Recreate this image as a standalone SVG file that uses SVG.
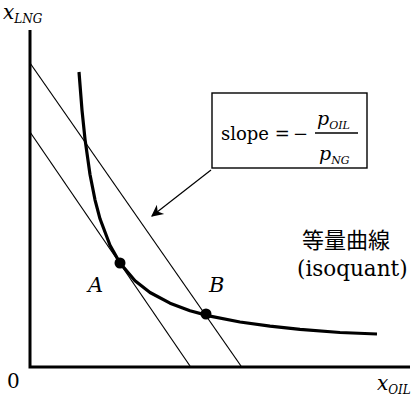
<svg xmlns="http://www.w3.org/2000/svg" width="413" height="396" viewBox="0 0 413 396">
<style>
.t{font-family:"DejaVu Serif","Liberation Serif",serif;fill:#000}
.cjk{font-family:"Noto Sans CJK JP","Noto Sans CJK SC",sans-serif;fill:#000}
.i{font-style:italic}
.thin{stroke:#000;stroke-width:1.2;fill:none}
.axis{stroke:#000;stroke-width:3;fill:none}
</style>
<defs>
<marker id="ah" viewBox="0 0 10 10" refX="9" refY="5" markerWidth="14" markerHeight="12" orient="auto" markerUnits="userSpaceOnUse">
<path d="M0,0 L10,5 L0,10 L3,5 z" fill="#000"/>
</marker>
</defs>
<rect width="413" height="396" fill="#fff"/>
<g id="axes">
<path class="axis" d="M30,30 V367 H410"/>
<text class="t i" x="3" y="19" font-size="20">x<tspan font-size="12" dy="4">LNG</tspan></text>
<text class="t" x="7" y="388" font-size="20">0</text>
<text class="t i" x="377" y="390" font-size="20">x<tspan font-size="12" dy="4">OIL</tspan></text>
</g>
<g id="connectors">
<line class="thin" x1="30" y1="63" x2="241" y2="366"/>
<line class="thin" x1="30" y1="132" x2="190" y2="366"/>
<line class="thin" x1="211" y1="170" x2="152" y2="216" marker-end="url(#ah)"/>
</g>
<g id="isoquant">
<path d="M79,72 L82,110.1 L85,139.1 L90,174.5 L95,199.8 L100,218.8 L110,245.3 L120,263 L135,280.7 L150,292.5 L170,303.2 L190,310.7 L210,316.1 L240,322 L270,326.2 L300,329.4 L340,332.5 L377,334" fill="none" stroke="#000" stroke-width="3.2" stroke-linejoin="round"/>
<text class="cjk" x="302" y="248" font-size="22">等量曲線</text>
<text class="t" x="297" y="276" font-size="21.5">(isoquant)</text>
</g>
<g id="pointA">
<circle cx="120" cy="263" r="5.5" fill="#000"/>
<text class="t i" x="88" y="292" font-size="21">A</text>
</g>
<g id="pointB">
<circle cx="206" cy="314" r="5.5" fill="#000"/>
<text class="t i" x="209" y="292" font-size="21">B</text>
</g>
<g id="slopebox">
<rect x="212" y="93" width="155" height="75" fill="#fff" stroke="#000" stroke-width="1.4"/>
<text class="t" x="221" y="140" font-size="18">slope =</text>
<text class="t" x="293" y="140" font-size="18">−</text>
<text class="t i" x="317" y="125" font-size="19">p<tspan font-size="11" dy="4">OIL</tspan></text>
<line x1="315" y1="133" x2="358" y2="133" stroke="#000" stroke-width="1.3"/>
<text class="t i" x="319" y="160" font-size="19">p<tspan font-size="11" dy="4">NG</tspan></text>
</g>
</svg>
